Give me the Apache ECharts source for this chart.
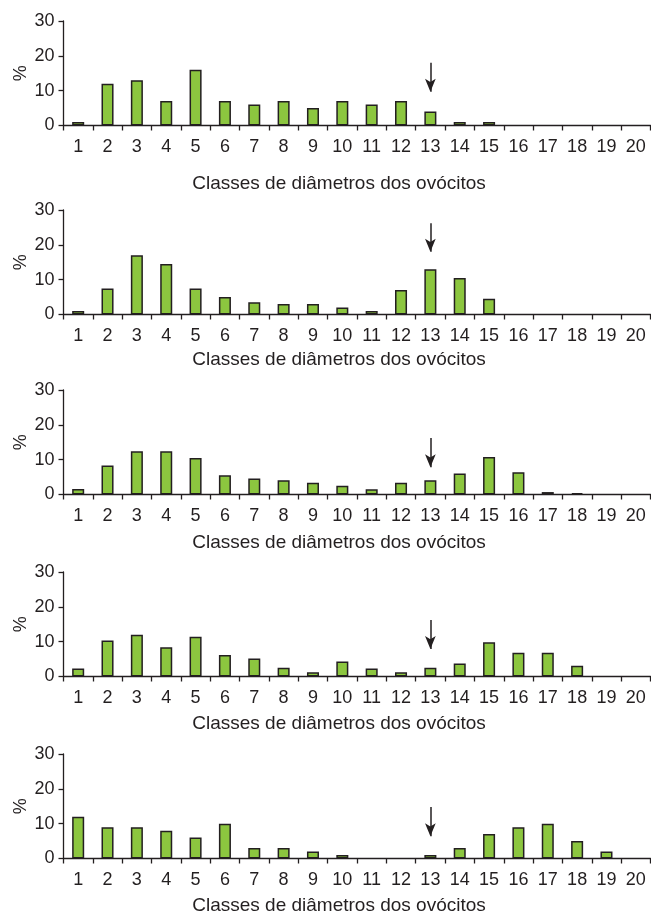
<!DOCTYPE html>
<html>
<head>
<meta charset="utf-8">
<script src="https://cdn.jsdelivr.net/npm/echarts@6/dist/echarts.min.js"></script>
<style>
html,body{margin:0;padding:0;background:#fff;}
#main{width:651px;height:913px;}
</style>
</head>
<body>
<div id="main"></div>
<script>
const categories = ['1','2','3','4','5','6','7','8','9','10','11','12','13','14','15','16','17','18','19','20'];
const yTicks = [0, 10, 20, 30];
const panel1 = [1, 12, 13, 7, 16, 7, 6, 7, 5, 7, 6, 7, 4, 1, 1, 0, 0, 0, 0, 0];
const panel2 = [1, 7.5, 17, 14.5, 7.5, 5, 3.5, 3, 3, 2, 1, 7, 13, 10.5, 4.5, 0, 0, 0, 0, 0];
const panel3 = [1.6, 8.3, 12.4, 12.4, 10.5, 5.5, 4.6, 4.1, 3.4, 2.5, 1.5, 3.4, 4.1, 6, 10.8, 6.4, 0.7, 0.4, 0, 0];
const panel4 = [2.3, 10.3, 12, 8.4, 11.4, 6.2, 5.2, 2.5, 1.2, 4.3, 2.3, 1.2, 2.5, 3.7, 9.8, 6.8, 6.8, 3.1, 0, 0];
const panel5 = [12, 9, 9, 8, 6, 10, 3, 3, 2, 1, 0, 0, 1, 3, 7, 9, 10, 5, 2, 0];
const panels = [panel1, panel2, panel3, panel4, panel5];
const arrowCategory = '13';
const arrowStart = [18, 26.2, 16.2, 16.2, 14.8];
const arrowEnd = [9.7, 18, 7.8, 7.9, 6.4];
const xTitle = 'Classes de diâmetros dos ovócitos';
const yTitle = '%';

const FONT = '"Liberation Sans", Arial, Helvetica, sans-serif';
const TXT = '#231f20';
const gridTops = [21, 210, 390, 572, 754];
const gridH = 104.5;
const titleTops = [169, 345, 528, 709, 891];

const chart = echarts.init(document.getElementById('main'));
const grids = [], xAxes = [], yAxes = [], series = [], titles = [];
panels.forEach((vals, i) => {
  grids.push({left: 63.5, width: 587, top: gridTops[i], height: gridH});
  xAxes.push({
    type: 'category', gridIndex: i, data: categories, boundaryGap: true,
    axisLine: {lineStyle: {color: '#231f20', width: 1.3}},
    axisTick: {show: true, length: 5, lineStyle: {color: '#231f20', width: 1.3}},
    axisLabel: {color: TXT, fontFamily: FONT, fontSize: 18, margin: 13, interval: 0}
  });
  yAxes.push({
    type: 'value', gridIndex: i, min: yTicks[0], max: yTicks[yTicks.length - 1], interval: 10,
    name: yTitle, nameLocation: 'middle', nameGap: 33, nameRotate: 90, nameMoveOverlap: false,
    nameTextStyle: {color: TXT, fontFamily: FONT, fontSize: 18},
    splitLine: {show: false},
    axisLine: {show: true, lineStyle: {color: '#231f20', width: 1.3}},
    axisTick: {show: true, length: 5, lineStyle: {color: '#231f20', width: 1.3}},
    axisLabel: {color: TXT, fontFamily: FONT, fontSize: 18, margin: 9}
  });
  series.push({
    type: 'bar', xAxisIndex: i, yAxisIndex: i,
    data: vals.map(v => (v === 0 ? null : v)), barWidth: '41%',
    itemStyle: {color: '#8cc63f', borderColor: '#231f20', borderWidth: 1.5},
    animation: false,
    markLine: {
      silent: true, animation: false,
      symbol: ['none', 'arrow'], symbolSize: [8, 13],
      label: {show: false},
      lineStyle: {color: '#231f20', width: 1.5, type: 'solid'},
      data: [[{coord: [arrowCategory, arrowStart[i]]}, {coord: [arrowCategory, arrowEnd[i]]}]]
    }
  });
  titles.push({
    text: xTitle, left: 334, top: titleTops[i], textAlign: 'center',
    textStyle: {color: TXT, fontFamily: FONT, fontSize: 19, fontWeight: 'normal'}
  });
});

chart.setOption({
  animation: false,
  backgroundColor: '#fff',
  title: titles,
  grid: grids,
  xAxis: xAxes,
  yAxis: yAxes,
  series: series
});
</script>
</body>
</html>
